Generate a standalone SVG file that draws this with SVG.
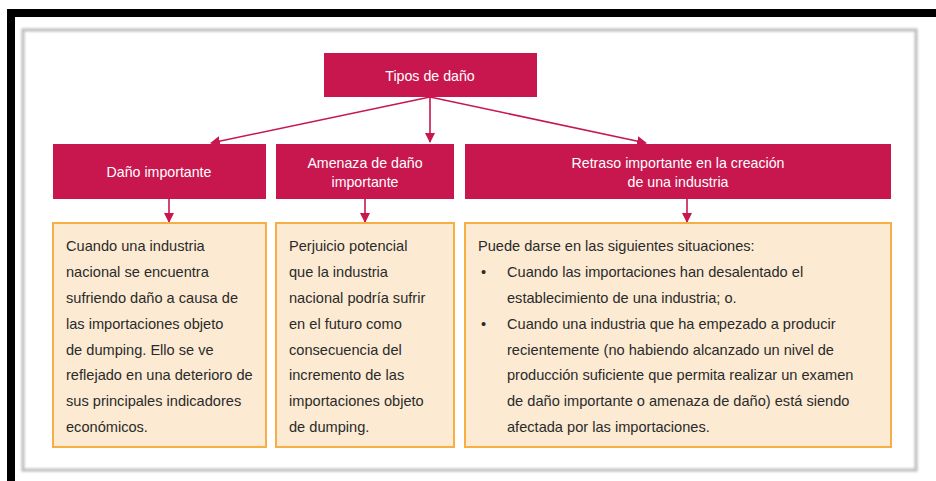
<svg xmlns="http://www.w3.org/2000/svg" width="936" height="481" viewBox="0 0 936 481">
<defs>
<style>
.hdr{fill:#C8174E;}
.hdrtxt{fill:#ffffff;font-family:"Liberation Sans",Arial,sans-serif;font-size:14.2px;text-anchor:middle;}
.box{fill:#FCEAD3;stroke:#F7AE45;stroke-width:2;}
.txt{fill:#2a2a2a;font-family:"Liberation Sans",Arial,sans-serif;font-size:14.6px;}
.con{stroke:#C8174E;stroke-width:1.6;fill:none;}
</style>
<marker id="ah" markerWidth="10" markerHeight="10" refX="9" refY="5" orient="auto" markerUnits="userSpaceOnUse">
<path d="M0,0 L10,5 L0,10 Z" fill="#C8174E"/>
</marker>
<filter id="blur" x="-5%" y="-5%" width="110%" height="110%"><feGaussianBlur stdDeviation="1.2"/></filter>
</defs>
<rect x="0" y="0" width="936" height="481" fill="#ffffff"/>
<g id="frame">
<rect x="7" y="9" width="929" height="8" fill="#000000"/>
<rect x="7" y="9" width="8" height="472" fill="#000000"/>
<rect x="23" y="30" width="893" height="440" fill="#ffffff" stroke="#c4c4c4" stroke-width="3.5" filter="url(#blur)"/>
</g>
<g id="connectors">
<line class="con" x1="430" y1="97" x2="430" y2="142" marker-end="url(#ah)"/>
<line class="con" x1="430" y1="97" x2="211" y2="143" marker-end="url(#ah)"/>
<line class="con" x1="430" y1="97" x2="646" y2="143" marker-end="url(#ah)"/>
<line class="con" x1="169" y1="199" x2="169" y2="222" marker-end="url(#ah)"/>
<line class="con" x1="365" y1="199" x2="365" y2="222" marker-end="url(#ah)"/>
<line class="con" x1="687" y1="199" x2="687" y2="222" marker-end="url(#ah)"/>
</g>
<g id="tipos">
<rect class="hdr" x="324" y="53" width="213" height="44"/>
<text class="hdrtxt" x="430" y="81">Tipos de daño</text>
</g>
<g id="dano">
<rect class="hdr" x="53" y="144" width="213" height="55"/>
<text class="hdrtxt" x="159" y="177">Daño importante</text>
</g>
<g id="amenaza">
<rect class="hdr" x="276" y="144" width="178" height="55"/>
<text class="hdrtxt" x="365" y="168">Amenaza de daño</text>
<text class="hdrtxt" x="365" y="187">importante</text>
</g>
<g id="retraso">
<rect class="hdr" x="465" y="144" width="426" height="55"/>
<text class="hdrtxt" x="678" y="168">Retraso importante en la creación</text>
<text class="hdrtxt" x="678" y="187">de una industria</text>
</g>
<g id="dano-desc">
<rect class="box" x="53" y="223" width="213" height="224"/>
<text class="txt">
<tspan x="66" y="251">Cuando una industria</tspan>
<tspan x="66" y="277">nacional se encuentra</tspan>
<tspan x="66" y="303">sufriendo daño a causa de</tspan>
<tspan x="66" y="329">las importaciones objeto</tspan>
<tspan x="66" y="355">de dumping. Ello se ve</tspan>
<tspan x="66" y="380">reflejado en una deterioro de</tspan>
<tspan x="66" y="406">sus principales indicadores</tspan>
<tspan x="66" y="432">económicos.</tspan>
</text>
</g>
<g id="amenaza-desc">
<rect class="box" x="276" y="223" width="178" height="224"/>
<text class="txt">
<tspan x="289" y="251">Perjuicio potencial</tspan>
<tspan x="289" y="277">que la industria</tspan>
<tspan x="289" y="303">nacional podría sufrir</tspan>
<tspan x="289" y="329">en el futuro como</tspan>
<tspan x="289" y="355">consecuencia del</tspan>
<tspan x="289" y="380">incremento de las</tspan>
<tspan x="289" y="406">importaciones objeto</tspan>
<tspan x="289" y="432">de dumping.</tspan>
</text>
</g>
<g id="retraso-desc">
<rect class="box" x="465" y="223" width="426" height="224"/>
<text class="txt">
<tspan x="478" y="251">Puede darse en las siguientes situaciones:</tspan>
<tspan x="481" y="277">•</tspan>
<tspan x="507" y="277">Cuando las importaciones han desalentado el</tspan>
<tspan x="507" y="303">establecimiento de una industria; o.</tspan>
<tspan x="481" y="329">•</tspan>
<tspan x="507" y="329">Cuando una industria que ha empezado a producir</tspan>
<tspan x="507" y="355">recientemente (no habiendo alcanzado un nivel de</tspan>
<tspan x="507" y="380">producción suficiente que permita realizar un examen</tspan>
<tspan x="507" y="406">de daño importante o amenaza de daño) está siendo</tspan>
<tspan x="507" y="432">afectada por las importaciones.</tspan>
</text>
</g>
</svg>
